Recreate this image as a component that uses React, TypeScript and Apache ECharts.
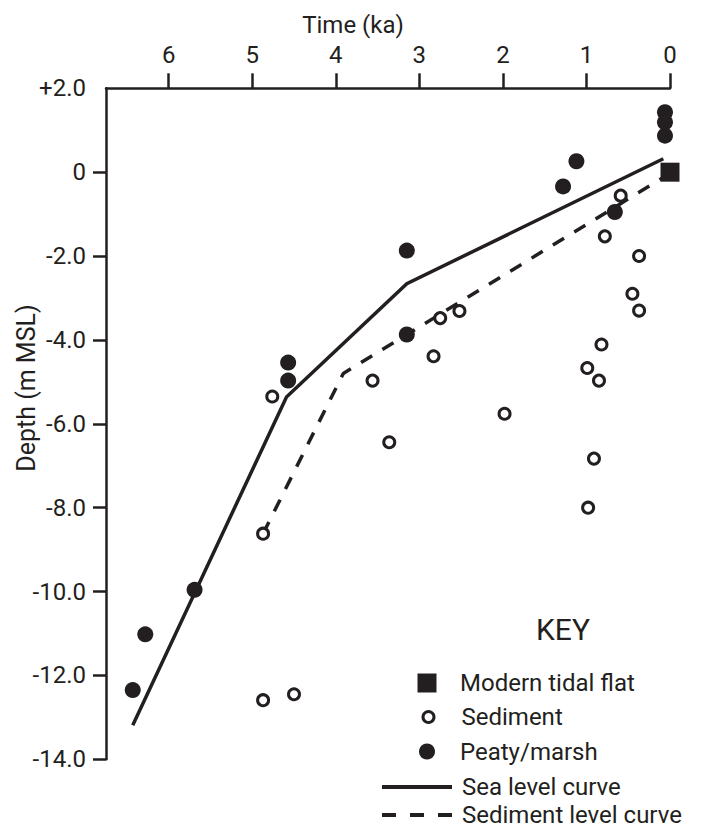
import React, { useEffect, useRef } from "react";
import * as echarts from "echarts";

const INK = "#231f20";
const FONT = "Roboto, 'Open Sans', sans-serif";

// Tick values
const timeTicks = [0, 1, 2, 3, 4, 5, 6];
const depthTickMarks = [0, -2, -4, -6, -8, -10, -12, -14];

// [time (ka), depth (m MSL)]
const modernTidalFlat = [[0, 0]];

const sediment = [
  [0.59, -0.56],
  [0.78, -1.53],
  [0.37, -2.0],
  [0.45, -2.9],
  [0.37, -3.3],
  [0.82, -4.11],
  [0.99, -4.67],
  [0.85, -4.97],
  [0.91, -6.83],
  [0.98, -8.0],
  [1.98, -5.76],
  [2.52, -3.31],
  [2.75, -3.48],
  [2.83, -4.39],
  [3.56, -4.97],
  [3.36, -6.44],
  [4.76, -5.35],
  [4.87, -8.62],
  [4.87, -12.59],
  [4.5, -12.45],
];

const peatyMarsh = [
  [0.06, 1.43],
  [0.06, 1.19],
  [0.06, 0.87],
  [1.12, 0.26],
  [1.28, -0.34],
  [0.66, -0.95],
  [3.15, -1.87],
  [3.15, -3.87],
  [4.57, -4.54],
  [4.57, -4.97],
  [5.69, -9.96],
  [6.28, -11.02],
  [6.43, -12.35],
];

const seaLevelCurve = [
  [6.43, -13.19],
  [4.59, -5.36],
  [3.15, -2.66],
  [0.08, 0.32],
];

const sedimentLevelCurve = [
  [4.87, -8.62],
  [3.91, -4.8],
  [0.1, -0.15],
];

function fmtDepth(v: number): string {
  if (v > 0) return "+" + v.toFixed(1);
  if (v === 0) return "0";
  return v.toFixed(1);
}

export default function App() {
  const ref = useRef<HTMLDivElement>(null);

  useEffect(() => {
    if (!ref.current) return;
    const chart = echarts.init(ref.current, null, { renderer: "svg" });

    const legendText = (padLeft: number) => ({
      color: INK,
      fontFamily: FONT,
      fontSize: 24,
      lineHeight: 20,
      padding: [0, 0, 0, padLeft],
    });

    const hiddenSymbol = { color: "rgba(0,0,0,0)", borderWidth: 0, opacity: 0 };

    chart.setOption({
      animation: false,
      backgroundColor: "#ffffff",
      textStyle: { fontFamily: FONT, color: INK },
      grid: {
        left: 106,
        right: 34,
        top: 88.3,
        bottom: 69.7,
        containLabel: false,
        outerBoundsMode: "none",
      },
      xAxis: {
        type: "value",
        position: "top",
        inverse: true,
        min: 0,
        max: 6.75,
        interval: 1,
        splitLine: { show: false },
        axisLine: { show: true, onZero: false, lineStyle: { color: INK, width: 2.5 } },
        axisTick: {
          show: true,
          inside: false,
          length: 15,
          lineStyle: { color: INK, width: 2.5 },
          customValues: timeTicks,
        },
        axisLabel: {
          show: true,
          customValues: timeTicks,
          margin: 21,
          color: INK,
          fontFamily: FONT,
          fontSize: 24,
        },
      },
      yAxis: {
        type: "value",
        min: -14,
        max: 2,
        interval: 2,
        splitLine: { show: false },
        axisLine: { show: true, onZero: false, lineStyle: { color: INK, width: 2.5 } },
        axisTick: {
          show: true,
          inside: false,
          length: 13,
          lineStyle: { color: INK, width: 2.5 },
          customValues: depthTickMarks,
        },
        axisLabel: {
          show: true,
          margin: 20,
          color: INK,
          fontFamily: FONT,
          fontSize: 24,
          formatter: (v: number) => fmtDepth(v),
        },
      },
      legend: [
        {
          data: ["Modern tidal flat"],
          orient: "vertical",
          left: 417.5,
          top: 681 - 10,
          padding: 0,
          itemWidth: 19,
          itemHeight: 19,
          itemStyle: { opacity: 1 },
          selectedMode: false,
          textStyle: legendText(18.5),
        },
        {
          data: ["Sediment"],
          orient: "vertical",
          left: 421.5,
          top: 715 - 10,
          padding: 0,
          itemWidth: 11,
          itemHeight: 11,
          itemStyle: { borderWidth: 3, borderColor: INK, color: "#ffffff", opacity: 1 },
          selectedMode: false,
          textStyle: legendText(22.5),
        },
        {
          data: ["Peaty/marsh"],
          orient: "vertical",
          left: 419,
          top: 749.5 - 10,
          padding: 0,
          itemWidth: 16,
          itemHeight: 16,
          itemStyle: { opacity: 1 },
          selectedMode: false,
          textStyle: legendText(20),
        },
        {
          data: ["Sea level curve"],
          orient: "vertical",
          left: 380,
          top: 785 - 10,
          padding: 0,
          itemWidth: 70,
          itemHeight: 20,
          itemStyle: hiddenSymbol,
          lineStyle: { width: 4, color: INK },
          selectedMode: false,
          textStyle: legendText(5),
        },
        {
          data: ["Sediment level curve"],
          orient: "vertical",
          left: 380,
          top: 813 - 10,
          padding: 0,
          itemWidth: 70,
          itemHeight: 20,
          itemStyle: hiddenSymbol,
          lineStyle: { width: 4, color: INK, type: [14, 14] },
          selectedMode: false,
          textStyle: legendText(5),
        },
      ],
      graphic: [
        {
          type: "text",
          x: 353,
          y: 25,
          style: {
            text: "Time (ka)",
            fill: INK,
            font: `24px ${FONT}`,
            align: "center",
            verticalAlign: "middle",
          },
        },
        {
          type: "text",
          x: 26,
          y: 388,
          rotation: Math.PI / 2,
          style: {
            text: "Depth (m MSL)",
            fill: INK,
            font: `25px ${FONT}`,
            align: "center",
            verticalAlign: "middle",
          },
        },
        {
          type: "text",
          x: 563,
          y: 629,
          style: {
            text: "KEY",
            fill: INK,
            font: `30px ${FONT}`,
            align: "center",
            verticalAlign: "middle",
          },
        },
      ],
      series: [
        {
          name: "Sea level curve",
          type: "line",
          data: seaLevelCurve,
          symbol: "none",
          showSymbol: false,
          color: INK,
          lineStyle: { color: INK, width: 3.5, cap: "butt", join: "miter" },
          z: 2,
        },
        {
          name: "Sediment level curve",
          type: "line",
          data: sedimentLevelCurve,
          symbol: "none",
          showSymbol: false,
          color: INK,
          lineStyle: { color: INK, width: 3.5, type: [13, 12] },
          z: 2,
        },
        {
          name: "Modern tidal flat",
          type: "scatter",
          data: modernTidalFlat,
          symbol: "rect",
          symbolSize: 19,
          clip: false,
          itemStyle: { color: INK, opacity: 1 },
          z: 3,
        },
        {
          name: "Sediment",
          type: "scatter",
          data: sediment,
          symbol: "circle",
          symbolSize: 11,
          clip: false,
          itemStyle: { color: "#ffffff", borderColor: INK, borderWidth: 3, opacity: 1 },
          z: 3,
        },
        {
          name: "Peaty/marsh",
          type: "scatter",
          data: peatyMarsh,
          symbol: "circle",
          symbolSize: 16,
          clip: false,
          itemStyle: { color: INK, opacity: 1 },
          z: 4,
        },
      ],
    });

    return () => {
      chart.dispose();
    };
  }, []);

  return (
    <div
      ref={ref}
      style={{ position: "absolute", left: 0, top: 0, width: 704, height: 829, background: "#fff" }}
    />
  );
}
